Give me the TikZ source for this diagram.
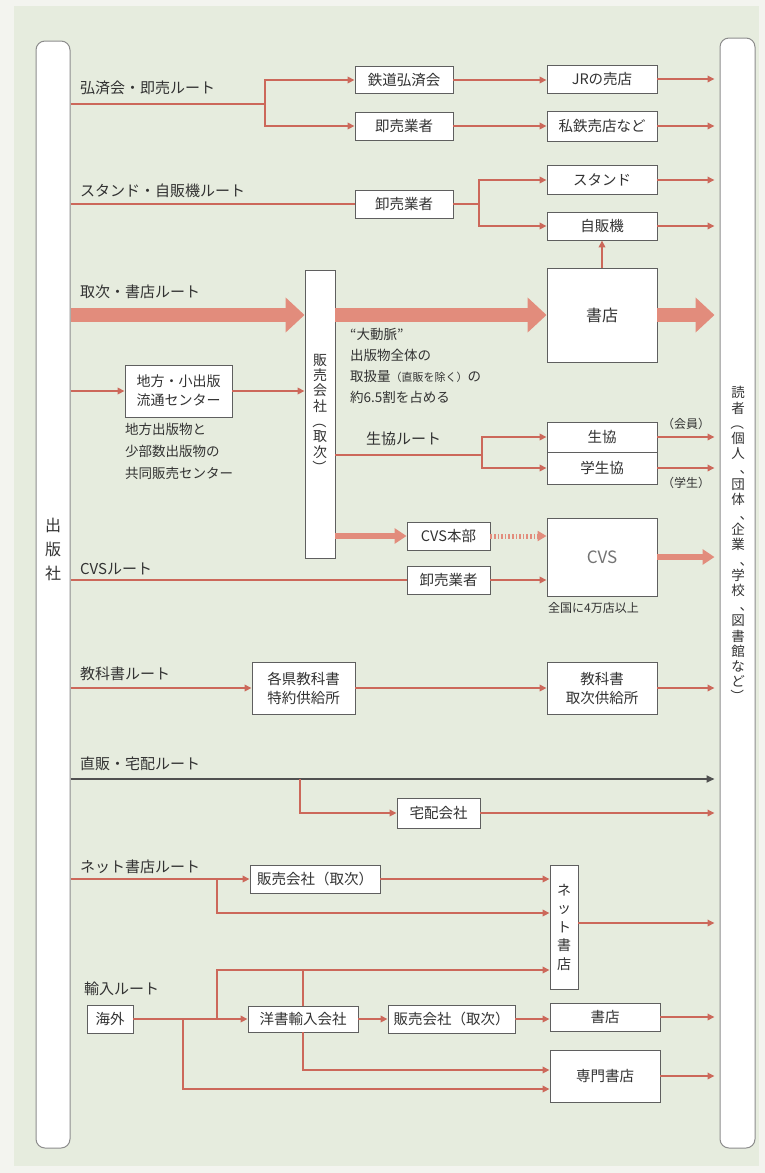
\documentclass[tikz,border=0pt]{standalone}
\usepackage{fontspec}
\usepackage{graphicx}
\setmainfont{Noto Sans CJK JP}
\usetikzlibrary{arrows.meta}
\definecolor{bgout}{RGB}{243,244,239}
\definecolor{bgin}{RGB}{230,236,222}
\definecolor{redc}{RGB}{204,104,90}
\definecolor{fatc}{RGB}{226,140,124}
\definecolor{boxc}{RGB}{95,95,95}
\definecolor{barc}{RGB}{140,140,140}
\definecolor{txt}{RGB}{50,50,50}
\definecolor{darkc}{RGB}{80,80,80}
\newcommand{\vop}{\rotatebox[origin=c]{-90}{（}}
\newcommand{\vcl}{\rotatebox[origin=c]{-90}{）}}
\newcommand{\vcm}{\makebox[1em][l]{\hspace*{0.62em}、}}
\begin{document}
\begin{tikzpicture}[x=1pt,y=-1pt,
  bx/.style={draw=boxc, fill=white, line width=0.9pt, inner sep=0pt, text=txt, font=\fontsize{14.5}{17}\selectfont, align=center},
  bar/.style={draw=barc, fill=white, line width=1pt, rounded corners=9pt, inner sep=0pt},
  ln/.style={draw=redc, line width=1.8pt},
  arr/.style={ln, -{Triangle[length=7pt,width=6.5pt]}},
  toR/.style={arr, shorten >=5pt},
  fat/.style={draw=fatc, line width=14pt, -{Triangle[length=19pt,width=34pt]}},
  midarr/.style={draw=fatc, line width=6pt, -{Triangle[length=12pt,width=15pt]}},
  lbl/.style={anchor=west, inner sep=0pt, text=txt, font=\fontsize{15}{18}\selectfont},
  note/.style={inner sep=0pt, text=txt, align=left, font=\fontsize{13.5}{21}\selectfont},
  small/.style={inner sep=0pt, text=txt, font=\fontsize{12}{14}\selectfont}]
\useasboundingbox (0,0) rectangle (765,1173);
\fill[bgout] (0,0) rectangle (765,1173);
\fill[bgin] (14,6) rectangle (759,1166);

% side bars
\node[bar, minimum width=34pt, minimum height=1107pt] (pub) at (53,594.5) {};
\node[inner sep=0pt, text=txt, align=center, font=\fontsize{16}{24}\selectfont] (publbl) at (53,549) {出\\版\\社};
\node[bar, minimum width=35pt, minimum height=1110pt] (reader) at (737.5,593) {};
\node[inner sep=0pt, text=txt, align=center, font=\fontsize{13.5}{15.2}\selectfont] (readerlbl) at (738,545)
  {読\\者\\\vop\\個\\人\\\vcm\\団\\体\\\vcm\\企\\業\\\vcm\\学\\校\\\vcm\\図\\書\\館\\な\\ど\\\vcl};

% ---------- route 1
\node[lbl] (l1) at (80,88) {弘済会・即売ルート};
\node[bx, minimum width=98pt, minimum height=27pt] (tetsudo) at (404,80) {鉄道弘済会};
\node[bx, minimum width=98pt, minimum height=28pt] (sokubai) at (404,126) {即売業者};
\node[bx, minimum width=110pt, minimum height=28pt] (jr) at (602,79) {JRの売店};
\node[bx, minimum width=110pt, minimum height=30pt] (shitetsu) at (602,126) {私鉄売店など};
\coordinate (b1) at (265,104);
\draw[ln] (pub.east |- b1) -- (b1);
\draw[arr] (b1) |- (tetsudo.west);
\draw[arr] (b1) |- (sokubai.west);
\draw[arr] (tetsudo.east) -- (tetsudo.east -| jr.west);
\draw[arr] (sokubai.east) -- (sokubai.east -| shitetsu.west);
\draw[toR] (jr.east) -- (jr.east -| reader.west);
\draw[toR] (shitetsu.east) -- (shitetsu.east -| reader.west);

% ---------- route 2
\node[lbl] (l2) at (80,191) {スタンド・自販機ルート};
\node[bx, minimum width=98pt, minimum height=28pt] (oroshi1) at (404,204) {卸売業者};
\node[bx, minimum width=110pt, minimum height=29pt] (stand) at (602,180) {スタンド};
\node[bx, minimum width=110pt, minimum height=28pt] (jihanki) at (602,226) {自販機};
\coordinate (b2) at (479,204);
\draw[ln] (pub.east |- oroshi1.west) -- (oroshi1.west);
\draw[ln] (oroshi1.east) -- (b2);
\draw[arr] (b2) |- (stand.west);
\draw[arr] (b2) |- (jihanki.west);
\draw[toR] (stand.east) -- (stand.east -| reader.west);
\draw[toR] (jihanki.east) -- (jihanki.east -| reader.west);

% ---------- route 3
\node[lbl] (l3) at (80,292) {取次・書店ルート};
\node[bx, minimum width=30pt, minimum height=288pt, font=\fontsize{14}{15.3}\selectfont] (hanbai) at (320,414) {販\\売\\会\\社\\\vop\\取\\次\\\vcl};
\node[bx, minimum width=110pt, minimum height=94pt, font=\fontsize{16}{18}\selectfont] (shoten) at (602,315) {書店};
\draw[fat] (pub.east |- shoten.west) -- (hanbai.west |- shoten.west);
\draw[fat] (hanbai.east |- shoten.west) -- (shoten.west);
\draw[fat, shorten >=5pt] (shoten.east) -- (shoten.east -| reader.west);
\draw[arr] (shoten.north) -- (jihanki.south);
\node[note, anchor=north west] (aorta) at (350,328)
  {“大動脈”\\出版物全体の\\取扱量{\fontsize{11}{13}\selectfont（直販を除く）}の\\約6.5割を占める};

% chiho
\node[bx, minimum width=107pt, minimum height=52pt, font=\fontsize{14}{19}\selectfont] (chiho) at (178.5,391) {地方・小出版\\流通センター};
\draw[arr] (pub.east |- chiho.west) -- (chiho.west);
\draw[arr] (chiho.east) -- (chiho.east -| hanbai.west);
\node[note, anchor=north west, font=\fontsize{13.5}{22}\selectfont] (chihonote) at (125,423)
  {地方出版物と\\少部数出版物の\\共同販売センター};

% seikyo
\node[lbl] (l5) at (366,439) {生協ルート};
\node[bx, minimum width=110pt, minimum height=30pt] (seikyo) at (602,437) {生協};
\node[bx, minimum width=110pt, minimum height=32pt] (gakusei) at (602,468) {学生協};
\coordinate (b5) at (482,455);
\draw[ln] (hanbai.east |- b5) -- (b5);
\draw[arr] (b5) |- (seikyo.west);
\draw[arr] (b5) |- (gakusei.west);
\draw[toR] (seikyo.east) -- (seikyo.east -| reader.west);
\draw[toR] (gakusei.east) -- (gakusei.east -| reader.west);
\node[small] (kaiin) at (686,424) {（会員）};
\node[small] (gakuseil) at (686,483) {（学生）};

% ---------- CVS
\node[lbl] (l6) at (80,569) {CVSルート};
\node[bx, minimum width=83pt, minimum height=28pt] (cvshq) at (448.5,536) {CVS本部};
\node[bx, minimum width=83pt, minimum height=28pt] (oroshi2) at (448.5,580) {卸売業者};
\node[bx, minimum width=110pt, minimum height=78pt, font=\fontsize{17}{20}\selectfont, text=black!55] (cvs) at (602,557) {CVS};
\draw[midarr] (hanbai.east |- cvshq.west) -- (cvshq.west);
\draw[draw=fatc, line width=5pt, dash pattern=on 1.6pt off 2pt, -{Triangle[length=9pt,width=10pt]}] (cvshq.east) -- (cvshq.east -| cvs.west);
\draw[ln] (pub.east |- oroshi2.west) -- (oroshi2.west);
\draw[arr] (oroshi2.east) -- (oroshi2.east -| cvs.west);
\draw[midarr, shorten >=5pt] (cvs.east) -- (cvs.east -| reader.west);
\node[small, anchor=west] (cvsnote) at (548,608) {全国に4万店以上};

% ---------- textbooks
\node[lbl] (l7) at (80,674) {教科書ルート};
\node[bx, minimum width=103pt, minimum height=52pt, font=\fontsize{14.5}{19}\selectfont] (kyoka1) at (303.5,688) {各県教科書\\特約供給所};
\node[bx, minimum width=110pt, minimum height=52pt, font=\fontsize{14.5}{19}\selectfont] (kyoka2) at (602,688) {教科書\\取次供給所};
\draw[arr] (pub.east |- kyoka1.west) -- (kyoka1.west);
\draw[arr] (kyoka1.east) -- (kyoka2.west);
\draw[toR] (kyoka2.east) -- (kyoka2.east -| reader.west);

% ---------- direct / delivery
\node[lbl] (l8) at (80,764) {直販・宅配ルート};
\node[bx, minimum width=83pt, minimum height=30pt] (takuhai) at (438.5,813) {宅配会社};
\coordinate (b8) at (300,779);
\draw[draw=darkc, line width=1.8pt, -{Triangle[length=8pt,width=7pt]}, shorten >=5pt] (pub.east |- b8) -- (b8 -| reader.west);
\draw[arr] (b8) |- (takuhai.west);
\draw[toR] (takuhai.east) -- (takuhai.east -| reader.west);

% ---------- net bookstore
\node[lbl] (l9) at (80,867) {ネット書店ルート};
\node[bx, minimum width=130pt, minimum height=28pt] (hanbai2) at (315,879) {販売会社（取次）};
\node[bx, minimum width=28pt, minimum height=124pt, font=\fontsize{14}{18.5}\selectfont] (netshop) at (564,927) {ネ\\ッ\\ト\\書\\店};
\coordinate (b9) at (217,879);
\coordinate (b9b) at (217,913);
\draw[arr] (pub.east |- hanbai2.west) -- (hanbai2.west);
\draw[arr] (hanbai2.east) -- (hanbai2.east -| netshop.west);
\draw[arr] (b9) -- (b9b) -- (b9b -| netshop.west);
\draw[toR] ([yshift=4pt]netshop.east) -- ([yshift=4pt]netshop.east -| reader.west);

% ---------- import
\node[lbl] (l10) at (84,989) {輸入ルート};
\node[bx, minimum width=46pt, minimum height=28pt] (kaigai) at (110,1019) {海外};
\node[bx, minimum width=110pt, minimum height=26pt] (yosho) at (303,1019) {洋書輸入会社};
\node[bx, minimum width=127pt, minimum height=28pt] (hanbai3) at (451.5,1019) {販売会社（取次）};
\node[bx, minimum width=110pt, minimum height=28pt] (shoten2) at (605,1017) {書店};
\node[bx, minimum width=110pt, minimum height=52pt] (senmon) at (605,1076) {専門書店};
\coordinate (c1) at (217,1019);
\coordinate (t1) at (217,970);
\coordinate (c2) at (183,1019);
\coordinate (t2) at (183,1089);
\coordinate (t4) at (303,1070);
\draw[arr] (kaigai.east) -- (kaigai.east -| yosho.west);
\draw[arr] (c1) -- (t1) -- (t1 -| netshop.west);
\draw[ln] (yosho.north) -- (yosho.north |- t1);
\draw[arr] (yosho.south) -- (t4) -- (t4 -| senmon.west);
\draw[arr] (c2) -- (t2) -- (t2 -| senmon.west);
\draw[arr] (yosho.east) -- (yosho.east -| hanbai3.west);
\draw[arr] (hanbai3.east) -- (hanbai3.east -| shoten2.west);
\draw[toR] (shoten2.east) -- (shoten2.east -| reader.west);
\draw[toR] (senmon.east) -- (senmon.east -| reader.west);
\end{tikzpicture}
\end{document}
